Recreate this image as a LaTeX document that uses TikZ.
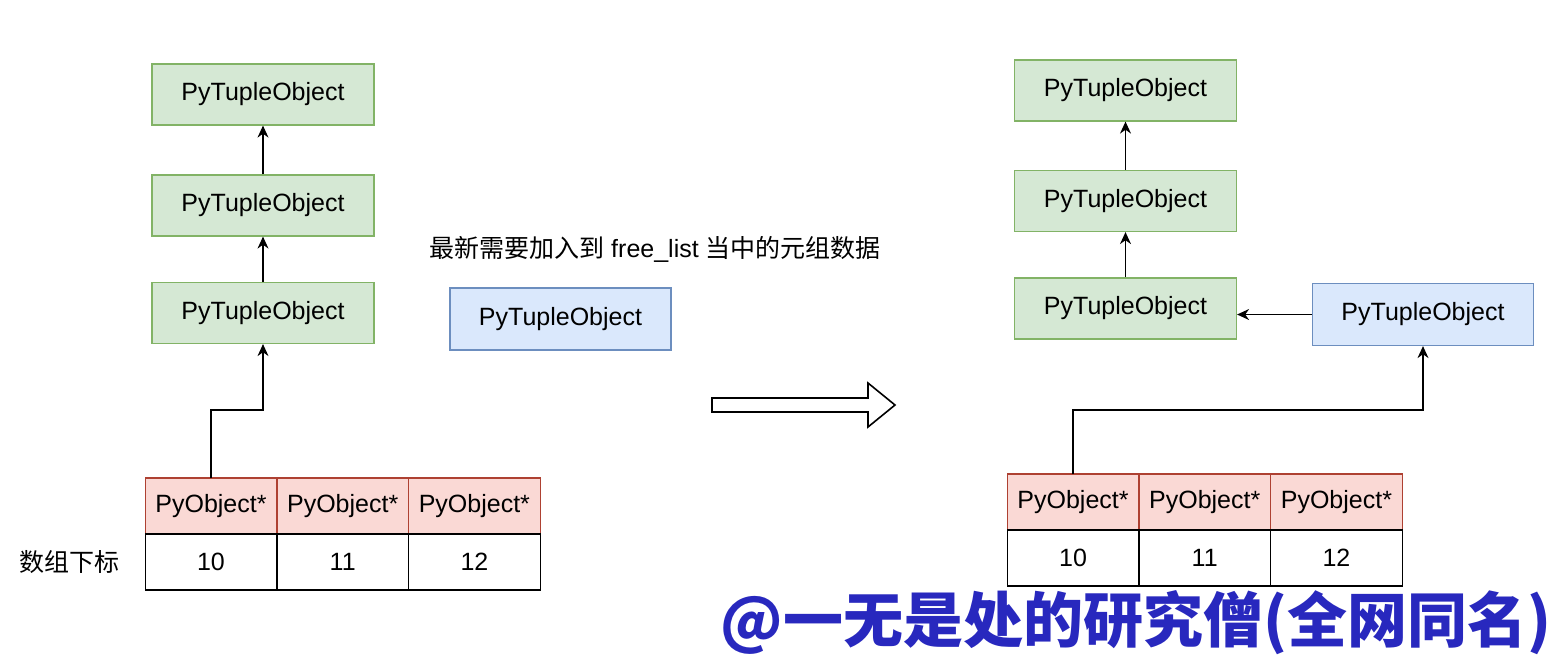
\documentclass[tikz,border=0pt]{standalone}
\usepackage{fontspec}
\setmainfont{Liberation Sans}
\newfontfamily\cjk{Noto Sans CJK SC}
\usetikzlibrary{arrows.meta}
\definecolor{gfill}{HTML}{D5E8D4}
\definecolor{gline}{HTML}{82B366}
\definecolor{bfill}{HTML}{DAE8FC}
\definecolor{bline}{HTML}{6C8EBF}
\definecolor{rfill}{HTML}{FAD9D5}
\definecolor{rline}{HTML}{AE4132}
\definecolor{wmblue}{RGB}{40,40,190}
\begin{document}
\begin{tikzpicture}[>={Stealth[length=6pt,width=5.5pt]}, x=0.5pt, y=-0.5pt, line width=0.6pt]
\tikzstyle{every node}=[font=\fontsize{12.5}{15}\selectfont]
\tikzstyle{tuple}=[draw=gline,fill=gfill,minimum width=111pt,minimum height=30.5pt,inner sep=0pt]
\tikzstyle{newtuple}=[draw=bline,fill=bfill,minimum width=110.5pt,minimum height=31pt,inner sep=0pt]
\tikzstyle{ptr}=[draw=rline,fill=rfill,minimum width=65.8pt,minimum height=28pt,inner sep=0pt,outer sep=0pt]
\tikzstyle{idx}=[draw,fill=white,minimum width=65.8pt,minimum height=28pt,inner sep=0pt,outer sep=0pt]
\useasboundingbox (0,0) rectangle (1560,660);
% left: free_list before
\node[tuple](lg1) at (263,94.5) {PyTupleObject};
\node[tuple](lg2) at (263,205.5) {PyTupleObject};
\node[tuple](lg3) at (263,313) {PyTupleObject};
\node[newtuple](lb) at (560.5,319) {PyTupleObject};
\node(lbl) at (655,249) {{\cjk 最新需要加入到} free\_list {\cjk 当中的元组数据}};
\node[ptr](lp0) at (211,506) {PyObject*};
\node[ptr](lp1) at (342.7,506) {PyObject*};
\node[ptr](lp2) at (474.4,506) {PyObject*};
\node[idx](li0) at (211,562) {10};
\node[idx](li1) at (342.7,562) {11};
\node[idx](li2) at (474.4,562) {12};
\node(lidx) at (69,562) {\cjk 数组下标};
\draw[->] (lg2.north) -- (lg1.south);
\draw[->] (lg3.north) -- (lg2.south);
\draw[->] (lp0.north) -- ++(0,-68) -| (lg3.south);
% big arrow
\draw[line width=0.8pt,fill=white] (712,398) -- (868,398) -- (868,383) -- (895,405)
  -- (868,427) -- (868,412) -- (712,412) -- cycle;
% right: free_list after
\node[tuple](rg1) at (1125.5,90.5) {PyTupleObject};
\node[tuple](rg2) at (1125.5,201) {PyTupleObject};
\node[tuple](rg3) at (1125.5,308.5) {PyTupleObject};
\node[newtuple](rb) at (1423,314.5) {PyTupleObject};
\node[ptr](rp0) at (1073,502) {PyObject*};
\node[ptr](rp1) at (1204.7,502) {PyObject*};
\node[ptr](rp2) at (1336.4,502) {PyObject*};
\node[idx](ri0) at (1073,558) {10};
\node[idx](ri1) at (1204.7,558) {11};
\node[idx](ri2) at (1336.4,558) {12};
\draw[->] (rg2.north) -- (rg1.south);
\draw[->] (rg3.north) -- (rg2.south);
\draw[->] (rb.west) -- (rg3.east |- rb.west);
\draw[->] (rp0.north) -- ++(0,-64) -| (rb.south);
% watermark
\node[text=wmblue,font=\cjk\bfseries\fontsize{30}{34}\selectfont](wm) at (1136,623) {@一无是处的研究僧(全网同名)};
\end{tikzpicture}
\end{document}
